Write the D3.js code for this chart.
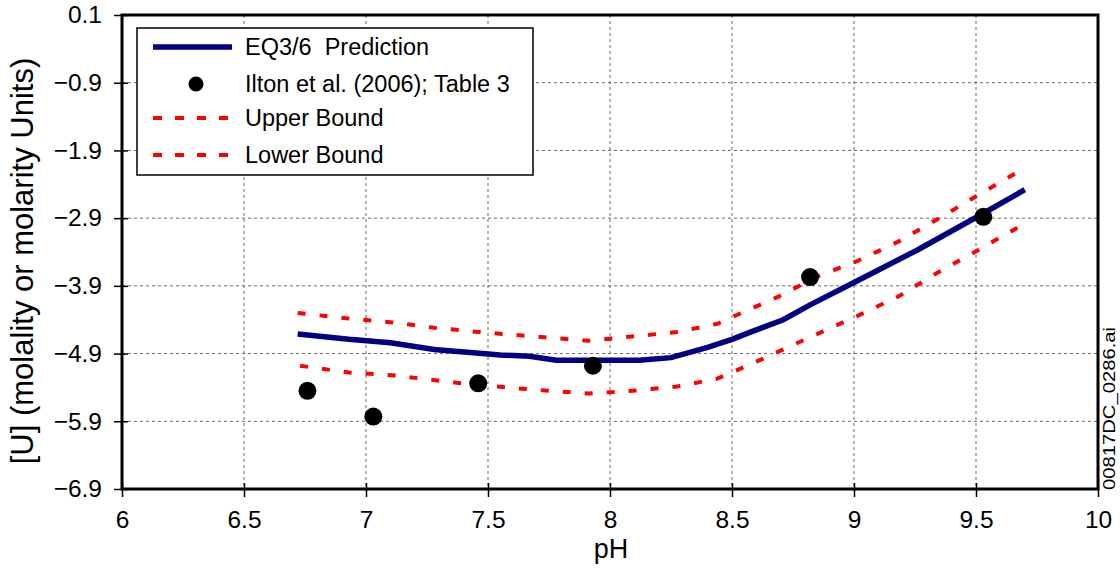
<!DOCTYPE html>
<html>
<head>
<meta charset="utf-8">
<script src="https://cdn.jsdelivr.net/npm/d3@7"></script>
<style>
  body { margin: 0; background: #fff; }
  svg { font-family: "Liberation Sans", Arial, sans-serif; }
</style>
</head>
<body>
<svg id="chart" width="1120" height="569"></svg>
<script>
// EQ3/6 prediction curve (pH, log [U])
var predPH  = [6.72, 6.93, 7.10, 7.28, 7.55, 7.67, 7.78, 8.12, 8.25, 8.40, 8.50, 8.57, 8.71, 8.82, 9.00, 9.26, 9.52, 9.70];
var predU   = [-4.61, -4.69, -4.74, -4.84, -4.92, -4.94, -5.00, -5.00, -4.96, -4.81, -4.69, -4.59, -4.40, -4.18, -3.85, -3.37, -2.85, -2.48];

var upperPH = [6.72, 6.92, 7.11, 7.28, 7.46, 7.73, 7.91, 8.00, 8.28, 8.44, 8.52, 8.69, 8.85, 9.01, 9.18, 9.34, 9.49, 9.67];
var upperU  = [-4.30, -4.38, -4.44, -4.52, -4.58, -4.66, -4.71, -4.68, -4.58, -4.46, -4.33, -4.06, -3.76, -3.54, -3.25, -2.92, -2.60, -2.22];

var lowerPH = [6.73, 6.93, 7.11, 7.37, 7.64, 7.91, 8.09, 8.27, 8.44, 8.60, 8.77, 9.01, 9.18, 9.34, 9.49, 9.67];
var lowerU  = [-5.08, -5.18, -5.22, -5.33, -5.42, -5.49, -5.45, -5.39, -5.27, -5.02, -4.74, -4.35, -4.06, -3.71, -3.41, -3.04];

// Ilton et al. (2006); Table 3
var iltonPH = [6.76, 7.03, 7.46, 7.93, 8.82, 9.53];
var iltonU  = [-5.45, -5.83, -5.34, -5.08, -3.77, -2.88];

var xTicks = [6, 6.5, 7, 7.5, 8, 8.5, 9, 9.5, 10];
var yTicks = [0.1, -0.9, -1.9, -2.9, -3.9, -4.9, -5.9, -6.9];

var legendItems = ["EQ3/6  Prediction", "Ilton et al. (2006); Table 3", "Upper Bound", "Lower Bound"];

var svg = d3.select("#chart");
var pLeft = 122, pRight = 1098, pTop = 15, pBottom = 489;

var x = d3.scaleLinear().domain([6, 10]).range([pLeft, pRight]);
var y = d3.scaleLinear().domain([-6.9, 0.1]).range([pBottom, pTop]);

var fmt = function (d) { return d3.format(".1f")(d).replace("-", "\u2212"); };

// grid
var grid = svg.append("g").attr("class", "grid");
grid.selectAll("line.v")
  .data(xTicks.slice(1, -1))
  .enter().append("line")
  .attr("x1", function (d) { return x(d); })
  .attr("x2", function (d) { return x(d); })
  .attr("y1", pTop).attr("y2", pBottom)
  .attr("stroke", "#666").attr("stroke-width", 1).attr("stroke-dasharray", "3,3");
grid.selectAll("line.h")
  .data(yTicks.slice(1, -1))
  .enter().append("line")
  .attr("y1", function (d) { return y(d); })
  .attr("y2", function (d) { return y(d); })
  .attr("x1", pLeft).attr("x2", pRight)
  .attr("stroke", "#666").attr("stroke-width", 1).attr("stroke-dasharray", "3,3");

// axes
var xAxis = svg.append("g")
  .attr("transform", "translate(0," + pBottom + ")")
  .call(d3.axisBottom(x).tickValues(xTicks).tickSize(8).tickPadding(14).tickFormat(function (d) { return d; }));
var yAxis = svg.append("g")
  .attr("transform", "translate(" + pLeft + ",0)")
  .call(d3.axisLeft(y).tickValues(yTicks).tickSize(8).tickPadding(12).tickFormat(fmt));

[xAxis, yAxis].forEach(function (ax) {
  ax.select(".domain").remove();
  ax.selectAll(".tick line").attr("stroke", "#000").attr("stroke-width", 1.5);
  ax.selectAll(".tick text").attr("fill", "#000").style("font-size", "24.5px")
    .style("font-family", "Liberation Sans, Arial, sans-serif");
});
// ticks poke inside a little too
xAxis.selectAll(".tick").append("line").attr("y1", 0).attr("y2", -6).attr("stroke", "#000").attr("stroke-width", 1.5);
yAxis.selectAll(".tick").append("line").attr("x1", 0).attr("x2", 6).attr("stroke", "#000").attr("stroke-width", 1.5);

// frame
svg.append("rect")
  .attr("x", pLeft).attr("y", pTop)
  .attr("width", pRight - pLeft).attr("height", pBottom - pTop)
  .attr("fill", "none").attr("stroke", "#000").attr("stroke-width", 3);

// lines
var line = d3.line();
function pts(xs, ys) {
  return xs.map(function (d, i) { return [x(d), y(ys[i])]; });
}
svg.append("path")
  .attr("d", line(pts(upperPH, upperU)))
  .attr("fill", "none").attr("stroke", "#ff0000").attr("stroke-width", 4)
  .attr("stroke-dasharray", "8,14");
svg.append("path")
  .attr("d", line(pts(lowerPH, lowerU)))
  .attr("fill", "none").attr("stroke", "#ff0000").attr("stroke-width", 4)
  .attr("stroke-dasharray", "8,14");
svg.append("path")
  .attr("d", line(pts(predPH, predU)))
  .attr("fill", "none").attr("stroke", "#000080").attr("stroke-width", 5.5);

svg.selectAll("circle.pt")
  .data(iltonPH)
  .enter().append("circle")
  .attr("cx", function (d) { return x(d); })
  .attr("cy", function (d, i) { return y(iltonU[i]); })
  .attr("r", 9)
  .attr("fill", "#000");

// legend
var legend = svg.append("g").attr("transform", "translate(137,28)");
legend.append("rect")
  .attr("width", 396).attr("height", 147)
  .attr("fill", "#fff").attr("stroke", "#000").attr("stroke-width", 1.5);
var rowY = [19, 56, 90, 127];
var rows = legend.selectAll("g.row")
  .data(legendItems)
  .enter().append("g")
  .attr("transform", function (d, i) { return "translate(0," + rowY[i] + ")"; });
rows.append("text")
  .attr("x", 108).attr("y", 8)
  .style("font-size", "23.5px")
  .style("white-space", "pre")
  .text(function (d) { return d; });
rows.each(function (d, i) {
  var g = d3.select(this);
  if (i === 0) {
    g.append("line").attr("x1", 16).attr("x2", 95).attr("y1", 0).attr("y2", 0)
      .attr("stroke", "#000080").attr("stroke-width", 5.5);
  } else if (i === 1) {
    g.append("circle").attr("cx", 59).attr("cy", 0).attr("r", 7.5).attr("fill", "#000");
  } else {
    g.append("line").attr("x1", 16).attr("x2", 95).attr("y1", 0).attr("y2", 0)
      .attr("stroke", "#ff0000").attr("stroke-width", 4).attr("stroke-dasharray", "9,13");
  }
});

// axis titles
svg.append("text")
  .attr("x", 611).attr("y", 558)
  .attr("text-anchor", "middle")
  .style("font-size", "27px")
  .text("pH");
svg.append("text")
  .attr("transform", "translate(33,261) rotate(-90)")
  .attr("text-anchor", "middle")
  .style("font-size", "31px")
  .text("[U] (molality or molarity Units)");

svg.append("text")
  .attr("transform", "translate(1115,490) rotate(-90)")
  .attr("text-anchor", "start")
  .attr("textLength", 163)
  .attr("lengthAdjust", "spacingAndGlyphs")
  .style("font-size", "17px")
  .text("00817DC_0286.ai");
</script>
</body>
</html>
